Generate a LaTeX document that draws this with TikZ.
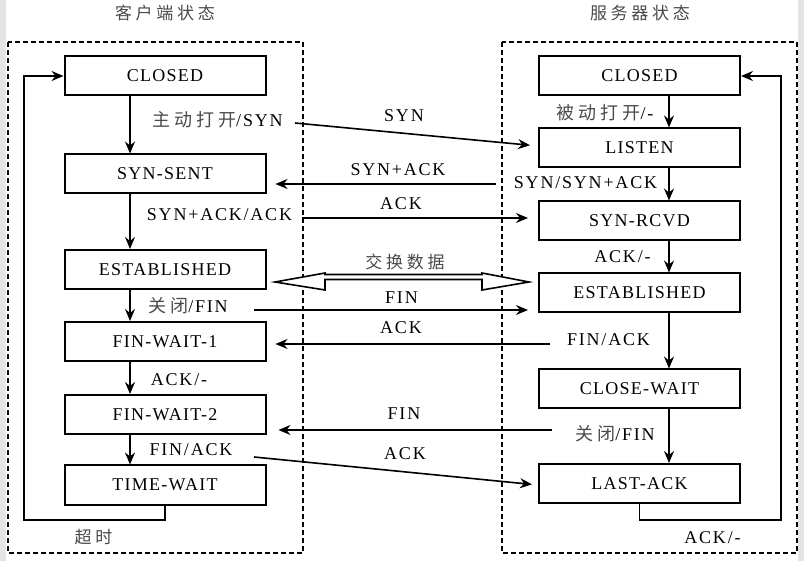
\documentclass[tikz,border=0pt]{standalone}
\usepackage{fontspec}
\setmainfont{Liberation Serif}[LetterSpace=10]
\newfontfamily\boxfont{Liberation Serif}[LetterSpace=7]
\newfontfamily\cjk{Noto Sans CJK SC}[LetterSpace=22]
\usetikzlibrary{arrows.meta}
\definecolor{cjkgray}{HTML}{4A4A4A}
\definecolor{edgegray}{HTML}{E4E4E4}
\newcommand{\zh}[1]{{\cjk\color{cjkgray}#1}}
\begin{document}
\begin{tikzpicture}[x=1pt,y=-1pt,
  state/.style={draw,line width=2pt,minimum width=201pt,minimum height=39pt,inner sep=0pt,font=\boxfont\fontsize{18}{20}\selectfont},
  lab/.style={inner sep=0pt,font=\fontsize{18}{20}\selectfont},
  title/.style={inner sep=0pt,font=\fontsize{17}{20}\selectfont},
  arr/.style={line width=1.6pt,-{Stealth[length=12pt,width=10pt,inset=4pt]}},
  frame/.style={line width=1.5pt,dash pattern=on 5pt off 3pt}]
\useasboundingbox (0,0) rectangle (804,561);
\fill[white] (0,0) rectangle (804,561);
\fill[edgegray] (0,0) rectangle (6,561);
\fill[edgegray] (798,0) rectangle (804,561);

% titles
\node[title] (t1) at (165,13) {\zh{客户端状态}};
\node[title] (t2) at (640,13) {\zh{服务器状态}};

% frames
\draw[frame] (8,42) rectangle (303,553);
\draw[frame] (502,42) rectangle (797,553);

% left states
\node[state] (lc)  at (165,76)    {CLOSED};
\node[state] (ls)  at (165,174)   {SYN-SENT};
\node[state] (le)  at (165,269.5) {ESTABLISHED};
\node[state] (lf1) at (165,341.5) {FIN-WAIT-1};
\node[state] (lf2) at (165,414.5) {FIN-WAIT-2};
\node[state] (lt)  at (165,485)   {TIME-WAIT};

% right states
\node[state] (rc)  at (639.5,76)    {CLOSED};
\node[state] (rl)  at (639.5,148)   {LISTEN};
\node[state] (rs)  at (639.5,221)   {SYN-RCVD};
\node[state] (re)  at (639.5,293)   {ESTABLISHED};
\node[state] (rcw) at (639.5,389)   {CLOSE-WAIT};
\node[state] (rla) at (639.5,483.5) {LAST-ACK};

\coordinate (xl) at (130,0);
\coordinate (xr) at (669,0);

% left vertical arrows
\draw[arr] (lc.south -| xl) -- (ls.north -| xl);
\draw[arr] (ls.south -| xl) -- (le.north -| xl);
\draw[arr] (le.south -| xl) -- (lf1.north -| xl);
\draw[arr] (lf1.south -| xl) -- (lf2.north -| xl);
\draw[arr] (lf2.south -| xl) -- (lt.north -| xl);

% right vertical arrows
\draw[arr] (rc.south -| xr) -- (rl.north -| xr);
\draw[arr] (rl.south -| xr) -- (rs.north -| xr);
\draw[arr] (rs.south -| xr) -- (re.north -| xr);
\draw[arr] (re.south -| xr) -- (rcw.north -| xr);
\draw[arr] (rcw.south -| xr) -- (rla.north -| xr);

% loops
\coordinate (lp) at (24,520);
\coordinate (rp) at (781,520);
\draw[arr] (lt.south) |- (lp) |- (lc.west);
\draw[arr] (rla.south) |- (rp) |- (rc.east);

% left labels
\node[lab] (l1) at (217.5,120) {\zh{主动打开}/SYN};
\node[lab] (l2) at (219.5,215) {SYN+ACK/ACK};
\node[lab] (l3) at (188,306)   {\zh{关闭}/FIN};
\node[lab] (l4) at (179,380)   {ACK/-};
\node[lab] (l5) at (191,450)   {FIN/ACK};
\node[title] (l6) at (93.5,537) {\zh{超时}};

% right labels
\node[lab] (r1) at (605,113)   {\zh{被动打开}/-};
\node[lab] (r2) at (585.5,183) {SYN/SYN+ACK};
\node[lab] (r3) at (622.5,257) {ACK/-};
\node[lab] (r4) at (608.5,340) {FIN/ACK};
\node[lab] (r5) at (615,434)   {\zh{关闭}/FIN};
\node[lab] (r6) at (712.5,538) {ACK/-};

% cross-connector labels
\node[lab] (m1) at (404,116) {SYN};
\node[lab] (m2) at (398,170) {SYN+ACK};
\node[lab] (m3) at (401,204) {ACK};
\node[title] (m4) at (405,262) {\zh{交换数据}};
\node[lab] (m5) at (401.5,298) {FIN};
\node[lab] (m6) at (401,328) {ACK};
\node[lab] (m7) at (404,414) {FIN};
\node[lab] (m8) at (405,454) {ACK};

% cross connectors
\coordinate (c1) at (295,123);
\coordinate (c2) at (496,184);
\coordinate (c3) at (302,218);
\coordinate (c5) at (254,310);
\coordinate (c6) at (550,344);
\coordinate (c7) at (552,430);
\coordinate (c8) at (254,457);
\draw[arr,shorten >=8pt] (c1) -- ([yshift=2pt]rl.west);
\draw[arr,shorten >=9pt] (c2) -- ([yshift=-10pt]ls.east);
\draw[arr,shorten >=10pt] (c3) -- ([yshift=3pt]rs.west);
\draw[arr,shorten >=10pt] (c5) -- ([yshift=-17pt]re.west);
\draw[arr,shorten >=9pt] (c6) -- ([yshift=-2.5pt]lf1.east);
\draw[arr,shorten >=12pt] (c7) -- ([yshift=-15.5pt]lf2.east);
\draw[arr,shorten >=6pt] (c8) -- ([yshift=-1.5pt]rla.west);

% hollow double arrow (exchange data)
\draw[line width=1.6pt,fill=white,line join=miter]
  (275,282) -- (325,290) -- (325,279.5) -- (482,279.5) -- (482,290)
  -- (529,282) -- (482,273) -- (482,274.5) -- (325,274.5) -- (325,273) -- cycle;
\end{tikzpicture}
\end{document}
